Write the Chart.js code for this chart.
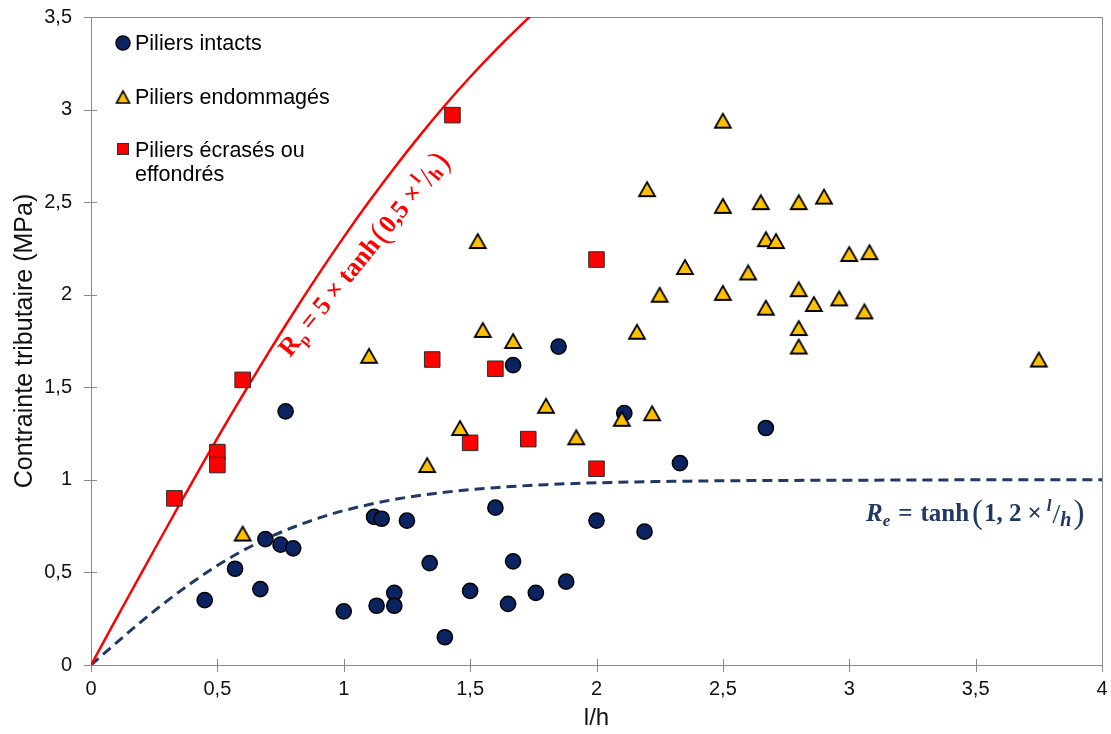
<!DOCTYPE html>
<html>
<head>
<meta charset="utf-8">
<script src="https://cdn.jsdelivr.net/npm/chart.js@4.4.0/dist/chart.umd.min.js"></script>
<style>
  html, body { margin: 0; padding: 0; background: #fff; }
  #chart { display: block; }
</style>
</head>
<body>
<canvas id="chart" width="1111" height="734"></canvas>
<script>
// valeurs (l/h, contrainte en MPa)
const intactsX = [0.45, 0.57, 0.67, 0.69, 0.75, 0.80, 0.77, 1.00, 1.12, 1.15, 1.25, 1.13, 1.20, 1.20, 1.34, 1.40, 1.50, 1.60, 1.67, 1.65, 1.76, 1.88, 2.00, 2.19, 2.33, 2.67, 2.11, 1.85, 1.67];
const intactsY = [0.35, 0.52, 0.41, 0.68, 0.65, 0.63, 1.37, 0.29, 0.80, 0.79, 0.78, 0.32, 0.39, 0.32, 0.55, 0.15, 0.40, 0.85, 0.56, 0.33, 0.39, 0.45, 0.78, 0.72, 1.09, 1.28, 1.36, 1.72, 1.62];

const endomX = [0.60, 1.10, 1.33, 1.46, 1.53, 1.55, 1.67, 1.80, 1.92, 2.10, 2.16, 2.20, 2.22, 2.25, 2.35, 2.50, 2.50, 2.50, 2.60, 2.65, 2.67, 2.67, 2.71, 2.80, 2.80, 2.80, 2.80, 2.86, 2.90, 2.96, 3.00, 3.06, 3.08, 3.75];
const endomY = [0.71, 1.67, 1.08, 1.28, 2.29, 1.81, 1.75, 1.40, 1.23, 1.33, 1.80, 2.57, 1.36, 2.00, 2.15, 2.94, 2.48, 2.01, 2.12, 2.50, 2.30, 1.93, 2.29, 2.50, 2.03, 1.82, 1.72, 1.95, 2.53, 1.98, 2.22, 1.91, 2.23, 1.65];

const ecrasesX = [0.33, 0.50, 0.50, 0.60, 1.35, 1.43, 1.50, 1.60, 1.73, 2.00, 2.00];
const ecrasesY = [0.90, 1.15, 1.08, 1.54, 1.65, 2.97, 1.20, 1.60, 1.22, 2.19, 1.06];

// courbes Rp et Re
const rpX = [0, 0.1, 0.2, 0.3, 0.4, 0.5, 0.6, 0.7, 0.8, 0.9, 1.0, 1.1, 1.2, 1.3, 1.4, 1.5, 1.6, 1.7, 1.8];
const rpY = [0, 0.250, 0.498, 0.744, 0.987, 1.225, 1.457, 1.682, 1.900, 2.110, 2.311, 2.503, 2.685, 2.858, 3.022, 3.176, 3.320, 3.455, 3.582];
const reX = [0, 0.1, 0.2, 0.3, 0.4, 0.5, 0.6, 0.7, 0.8, 0.9, 1.0, 1.2, 1.4, 1.6, 1.8, 2.0, 2.5, 3.0, 3.5, 4.0];
const reY = [0, 0.119, 0.236, 0.345, 0.446, 0.537, 0.617, 0.686, 0.744, 0.793, 0.834, 0.894, 0.933, 0.958, 0.974, 0.984, 0.995, 0.998, 1.0, 1.0];

const xTicks = [0, 0.5, 1, 1.5, 2, 2.5, 3, 3.5, 4];
const yTicks = [0, 0.5, 1, 1.5, 2, 2.5, 3, 3.5];

const legendLabels = ['Piliers intacts', 'Piliers endommagés', ['Piliers écrasés ou', 'effondrés']];

const NAVY = '#0b2461';
const YELLOW = '#ffc000';
const RED = '#ff0000';
const AXIS = '#8a8a8a';
const SANS = '"Liberation Sans", Arial, sans-serif';
const SERIF = '"Liberation Serif", "Times New Roman", serif';

const pts = (xs, ys) => xs.map((x, i) => ({ x, y: ys[i] }));
const fmt = v => String(v).replace('.', ',');

// triangle centré sur sa boîte (comme les marqueurs Excel)
function makeTriangle(w, h, lw) {
  const c = document.createElement('canvas');
  c.width = Math.ceil(w + lw * 2);
  c.height = Math.ceil(h + lw * 2);
  const g = c.getContext('2d');
  const cx = c.width / 2, cy = c.height / 2;
  g.beginPath();
  g.moveTo(cx, cy - h / 2);
  g.lineTo(cx + w / 2, cy + h / 2);
  g.lineTo(cx - w / 2, cy + h / 2);
  g.closePath();
  g.fillStyle = YELLOW;
  g.fill();
  g.lineWidth = lw;
  g.lineJoin = 'miter';
  g.strokeStyle = '#000';
  g.stroke();
  return c;
}
const triPlot = makeTriangle(16, 14, 1.8);
const triLegend = makeTriangle(13, 12, 1.6);

// cadre + graduations qui traversent les axes
const framePlugin = {
  id: 'frame',
  beforeDatasetsDraw(chart) {
    const { ctx, chartArea: a, scales } = chart;
    ctx.save();
    ctx.strokeStyle = AXIS;
    ctx.lineWidth = 1;
    ctx.strokeRect(Math.round(a.left) + 0.5, Math.round(a.top) + 0.5,
      Math.round(a.right - a.left), Math.round(a.bottom - a.top));
    ctx.beginPath();
    xTicks.forEach(v => {
      const px = Math.round(scales.x.getPixelForValue(v)) + 0.5;
      ctx.moveTo(px, a.bottom - 6);
      ctx.lineTo(px, a.bottom + 7);
    });
    yTicks.forEach(v => {
      const py = Math.round(scales.y.getPixelForValue(v)) + 0.5;
      ctx.moveTo(a.left - 7, py);
      ctx.lineTo(a.left + 6, py);
    });
    ctx.stroke();
    ctx.restore();
  }
};

function drawPieces(ctx, x, y, angle, color, pieces) {
  ctx.save();
  ctx.translate(x, y);
  ctx.rotate(angle);
  ctx.fillStyle = color;
  ctx.textBaseline = 'alphabetic';
  let cx = 0;
  pieces.forEach(p => {
    ctx.font = p[1];
    ctx.fillText(p[0], cx, p[2] || 0);
    cx += ctx.measureText(p[0]).width + (p[3] || 0);
  });
  ctx.restore();
}

// légende et équations
const notesPlugin = {
  id: 'notes',
  afterDatasetsDraw(chart) {
    const ctx = chart.ctx;
    ctx.save();
    // légende
    ctx.beginPath();
    ctx.arc(123, 43, 7, 0, Math.PI * 2);
    ctx.fillStyle = NAVY;
    ctx.fill();
    ctx.lineWidth = 1.5;
    ctx.strokeStyle = '#000';
    ctx.stroke();
    ctx.drawImage(triLegend, 123 - triLegend.width / 2, 97 - triLegend.height / 2);
    ctx.fillStyle = RED;
    ctx.fillRect(117, 143, 12, 12);
    ctx.lineWidth = 1;
    ctx.strokeStyle = '#333';
    ctx.strokeRect(117.5, 143.5, 11, 11);

    ctx.fillStyle = '#000';
    ctx.font = '21.5px ' + SANS;
    ctx.textBaseline = 'alphabetic';
    ctx.fillText(legendLabels[0], 135, 50);
    ctx.fillText(legendLabels[1], 135, 104);
    ctx.fillText(legendLabels[2][0], 135, 157);
    ctx.fillText(legendLabels[2][1], 135, 181);
    ctx.restore();

    const B = 'bold 26px ' + SERIF;
    const BI = 'bold italic 25px ' + SERIF;
    drawPieces(ctx, 290, 358, -51 * Math.PI / 180, RED, [
      ['R', B], ['p', 'bold 16px ' + SERIF, 5, 6],
      ['=', B, 0, 6], ['5', B, 0, 6], ['×', B, 0, 6], ['tanh', B, 0, 2],
      ['(', '33px ' + SERIF, 2, 1], ['0,5', B, 0, 6], ['×', B, 0, 4],
      ['l', 'bold 17px ' + SERIF, -10, 1], ['/', '29px ' + SERIF, 2, 0],
      ['h', 'bold 19px ' + SERIF, 4, 2], [')', '33px ' + SERIF, 2]
    ]);
    drawPieces(ctx, 866, 521, 0, '#1f3864', [
      ['R', BI], ['e', 'bold italic 17px ' + SERIF, 5, 8],
      ['=', 'bold 25px ' + SERIF, 0, 8], ['tanh', 'bold 25px ' + SERIF, 0, 3],
      ['(', '33px ' + SERIF, 2, 1], ['1, 2', 'bold 25px ' + SERIF, 0, 6],
      ['×', 'bold 25px ' + SERIF, 0, 5],
      ['l', 'bold italic 17px ' + SERIF, -10, 1], ['/', '28px ' + SERIF, 2, 0],
      ['h', 'bold italic 20px ' + SERIF, 5, 2], [')', '33px ' + SERIF, 2]
    ]);
  }
};

const ctx = document.getElementById('chart').getContext('2d');

new Chart(ctx, {
  type: 'scatter',
  data: {
    datasets: [
      {
        label: legendLabels[1],
        data: pts(endomX, endomY),
        pointStyle: triPlot,
        order: 1
      },
      {
        label: 'Piliers écrasés ou effondrés',
        data: pts(ecrasesX, ecrasesY),
        pointStyle: 'rect',
        pointRadius: 11,
        pointHoverRadius: 11,
        backgroundColor: RED,
        borderColor: '#2a2a2a',
        borderWidth: 1,
        order: 2
      },
      {
        label: legendLabels[0],
        data: pts(intactsX, intactsY),
        pointStyle: 'circle',
        pointRadius: 7.6,
        pointHoverRadius: 7.6,
        backgroundColor: NAVY,
        borderColor: '#000',
        borderWidth: 1.5,
        order: 3
      },
      {
        label: 'Rp',
        data: pts(rpX, rpY),
        showLine: true,
        borderColor: RED,
        borderWidth: 2.5,
        pointRadius: 0,
        tension: 0.4,
        order: 4
      },
      {
        label: 'Re',
        data: pts(reX, reY),
        showLine: true,
        borderColor: '#1f3864',
        borderWidth: 3,
        borderDash: [10, 6],
        pointRadius: 0,
        cubicInterpolationMode: 'monotone',
        order: 5
      }
    ]
  },
  options: {
    responsive: false,
    animation: false,
    devicePixelRatio: 1,
    layout: { autoPadding: false, padding: { left: 0, top: 17, right: 9, bottom: 0 } },
    plugins: {
      legend: { display: false },
      tooltip: { enabled: false }
    },
    scales: {
      x: {
        type: 'linear',
        min: 0,
        max: 4,
        afterBuildTicks: s => { s.ticks = xTicks.map(v => ({ value: v })); },
        ticks: {
          padding: 12,
          color: '#111',
          font: { family: SANS, size: 20 },
          callback: v => fmt(v)
        },
        grid: { display: false, drawTicks: false },
        border: { display: false },
        title: {
          display: true,
          text: 'l/h',
          color: '#111',
          font: { family: SANS, size: 24 },
          padding: { top: 0, bottom: 1 }
        },
        afterFit: s => { s.height = 69; s.paddingLeft = 0; s.paddingRight = 0; }
      },
      y: {
        type: 'linear',
        min: 0,
        max: 3.5,
        afterBuildTicks: s => { s.ticks = yTicks.map(v => ({ value: v })); },
        ticks: {
          padding: 19,
          color: '#111',
          font: { family: SANS, size: 20 },
          callback: v => fmt(v)
        },
        grid: { display: false, drawTicks: false },
        border: { display: false },
        title: {
          display: true,
          text: 'Contrainte tributaire (MPa)',
          color: '#111',
          font: { family: SANS, size: 25 },
          padding: { top: 10, bottom: 0 }
        },
        afterFit: s => { s.width = 91; s.paddingTop = 0; s.paddingBottom = 0; }
      }
    }
  },
  plugins: [framePlugin, notesPlugin]
});
</script>
</body>
</html>
